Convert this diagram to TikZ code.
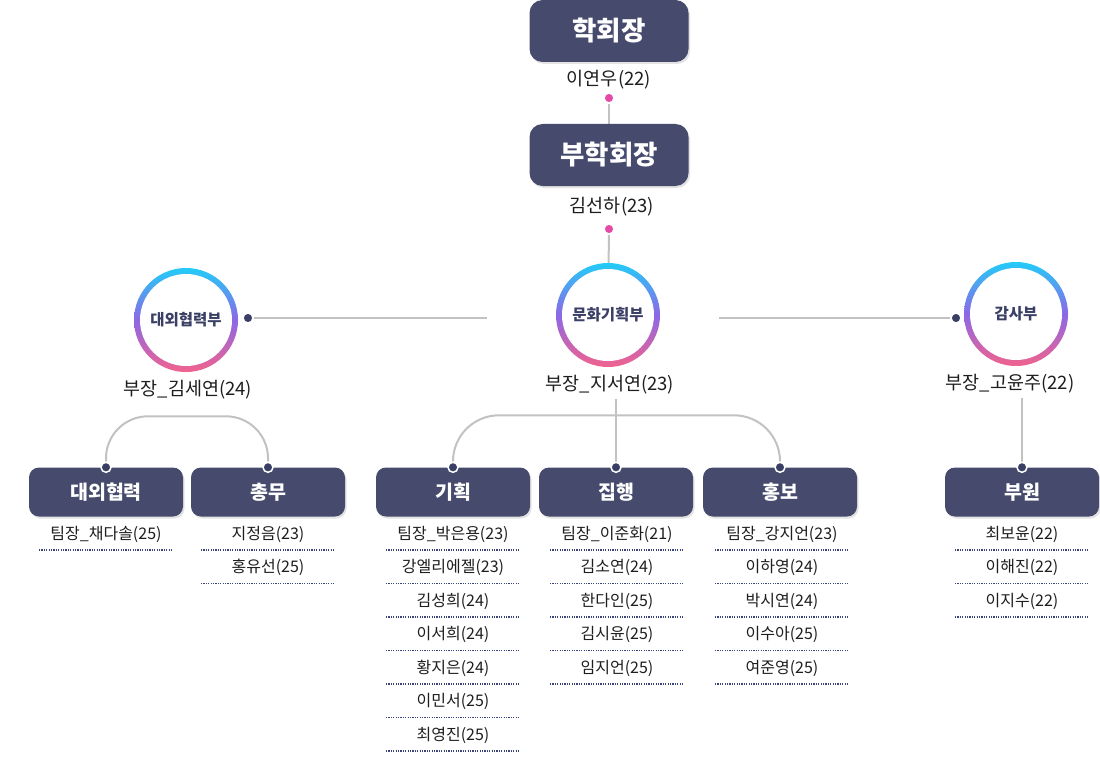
\documentclass[tikz,border=0pt]{standalone}
\usepackage{fontspec}
\setmainfont{Noto Sans CJK KR}
\usetikzlibrary{shadows,backgrounds}

\definecolor{boxnavy}{HTML}{464B6E}
\definecolor{deptnavy}{HTML}{3A3F66}
\definecolor{ringcyan}{HTML}{22CCF8}
\definecolor{ringviolet}{HTML}{8C68E6}
\definecolor{ringpink}{HTML}{F2628E}
\definecolor{dotpink}{HTML}{E54BA6}
\definecolor{linkgray}{HTML}{C2C2C2}
\definecolor{rulenavy}{HTML}{3B4478}
\definecolor{nametext}{HTML}{1E1E1E}

\tikzset{
  headbox/.style={rectangle, rounded corners=13pt, fill=boxnavy, text=white,
    minimum width=159pt, minimum height=62pt, inner sep=0pt,
    font=\bfseries\fontsize{26.5pt}{30pt}\selectfont,
    drop shadow={opacity=0.22, shadow xshift=1.5pt, shadow yshift=-2pt}},
  teambox/.style={headbox, rounded corners=10pt, minimum width=154pt,
    minimum height=49pt, font=\bfseries\fontsize{19.5pt}{22pt}\selectfont},
  ring/.style={circle, minimum size=104pt, inner sep=0pt,
    top color=ringcyan, bottom color=ringpink, middle color=ringviolet,
    path picture={\fill[white] (path picture bounding box.center) circle (46pt);},
    text=deptnavy, font=\bfseries\fontsize{15.5pt}{18pt}\selectfont},
  person/.style={text=nametext, inner sep=0pt, font=\fontsize{18.5pt}{21pt}\selectfont},
  member/.style={person, font=\fontsize{16pt}{18pt}\selectfont},
  pinkdot/.style={circle, fill=dotpink, draw=white, line width=1.5pt,
    inner sep=0pt, minimum size=10pt},
  navydot/.style={pinkdot, fill=deptnavy},
  link/.style={draw=linkgray, line width=2pt},
  dotrule/.style={draw=rulenavy, line width=1.2pt, dash pattern=on 1.2pt off 1.2pt}
}

% one team's members, each above a dotted rule
\newcommand\teamlist[3]{%
  \foreach \nm [count=\i] in {#3} {
    \node[member] (#2-\i) at (#1,500.5+33.5*\i) {\nm};
    \draw[dotrule] (#1-67,516.5+33.5*\i) -- (#1+67,516.5+33.5*\i);
  }}

\begin{document}
\begin{tikzpicture}[x=1pt,y=-1pt]
\useasboundingbox (0,0) rectangle (1100,757);

% president and vice president
\node[headbox] (pres) at (609,31) {학회장};
\node[person] (presname) at (609,80) {이연우(22)};
\node[pinkdot] (presdot) at (609,98) {};
\node[headbox] (vice) at (609,155) {부학회장};
\node[person] (vicename) at (612,207) {김선하(23)};
\node[pinkdot] (vicedot) at (609,229) {};

% departments
\node[ring] (ext) at (186,320) {대외협력부};
\node[ring] (plan) at (608,315) {문화기획부};
\node[ring] (audit) at (1016,314) {감사부};
\node[person] (extname) at (188,390) {부장\_김세연(24)};
\node[person] (planname) at (610,385) {부장\_지서연(23)};
\node[person] (auditname) at (1010,384) {부장\_고윤주(22)};
\node[navydot] (extdot) at (248,318) {};
\node[navydot] (auditdot) at (956,318) {};
\coordinate (extend) at (487,318);
\coordinate (auditend) at (719,318);

% teams
\node[teambox] (ext1) at (106,492) {대외협력};
\node[teambox] (ext2) at (268,492) {총무};
\node[teambox] (plan1) at (453,492) {기획};
\node[teambox] (plan2) at (616,492) {집행};
\node[teambox] (plan3) at (780,492) {홍보};
\node[teambox] (aud1) at (1022,492) {부원};
\foreach \t in {ext1,ext2,plan1,plan2,plan3,aud1}
  \node[navydot] (\t dot) at (\t.north) {};

% members
\teamlist{106}{ext1}{팀장\_채다솔(25)}
\teamlist{268}{ext2}{지정음(23),홍유선(25)}
\teamlist{453}{plan1}{팀장\_박은용(23),강엘리에젤(23),김성희(24),이서희(24),황지은(24),이민서(25),최영진(25)}
\teamlist{617}{plan2}{팀장\_이준화(21),김소연(24),한다인(25),김시윤(25),임지언(25)}
\teamlist{782}{plan3}{팀장\_강지언(23),이하영(24),박시연(24),이수아(25),여준영(25)}
\teamlist{1022}{aud1}{최보윤(22),이해진(22),이지수(22)}

% connectors
\begin{scope}[on background layer]
\fill[white] (0,0) rectangle (1100,757);
\draw[link] (presdot) -- (vice);
\draw[link] (vicedot) -- (plan);
\draw[link] (extdot) -- (extend);
\draw[link] (auditend) -- (auditdot);
\draw[link, rounded corners=42pt] (ext1dot) -- ++(0,-51) -| (ext2dot);
\draw[link, rounded corners=46pt] (plan1dot) -- ++(0,-52) -| (plan3dot);
\draw[link] (plan2dot |- planname.south) ++(0,4) -- (plan2dot);
\draw[link] (aud1dot |- auditname.south) ++(0,4) -- (aud1dot);
\end{scope}
\end{tikzpicture}
\end{document}
